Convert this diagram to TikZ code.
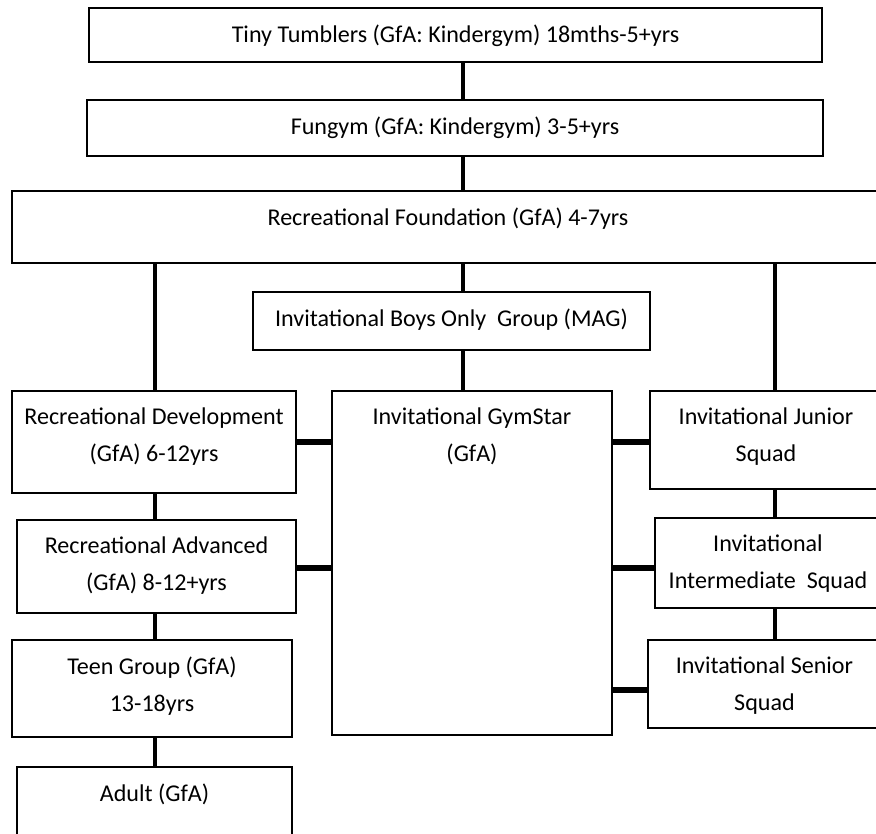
\documentclass[tikz,border=0pt]{standalone}
\usepackage{fontspec}
\setmainfont{Carlito}
\usepackage{tikz}
\usetikzlibrary{positioning}

\tikzset{
  box/.style 2 args={draw, line width=1.4pt, inner sep=0pt,
    minimum width=#1*0.02cm, minimum height=#2*0.02cm},
  txt/.style={inner sep=0pt, align=center,
    font=\fontsize{13.7pt}{21pt}\selectfont},
  link/.style={line width=2.4pt},
  hlink/.style={line width=2.9pt}
}

\begin{document}
\begin{tikzpicture}[x=0.02cm,y=-0.02cm]
\clip (0,0) rectangle (876,833);

% the boxes
\node[box={733}{54}]  (tiny)    at (455.5,35)  {};
\node[box={736}{56}]  (fungym)  at (455,128)   {};
\node[box={872}{72}]  (found)   at (448,227)   {};
\node[box={397}{58}]  (boys)    at (451.5,321) {};
\node[box={284}{102}] (recdev)  at (154,442)   {};
\node[box={280}{344}] (gymstar) at (472,563)   {};
\node[box={232}{98}]  (junior)  at (766,440)   {};
\node[box={279}{93}]  (recadv)  at (156.5,566.5) {};
\node[box={226}{90}]  (inter)   at (768,563)   {};
\node[box={280}{97}]  (teen)    at (152,688.5) {};
\node[box={233}{88}]  (senior)  at (764.5,684) {};
\node[box={275}{93}]  (adult)   at (154.5,813.5) {};

% the texts, near the top of each box
\node[txt, below=0.35cm of tiny.north]    (tinyT)    {Tiny Tumblers (GfA: Kindergym) 18mths-5+yrs};
\node[txt, below=0.35cm of fungym.north]  (fungymT)  {Fungym (GfA: Kindergym) 3-5+yrs};
\node[txt, below=0.35cm of found.north]   (foundT)   {Recreational Foundation (GfA) 4-7yrs};
\node[txt, below=0.35cm of boys.north]    (boysT)    {Invitational Boys Only\ \ Group (MAG)};
\node[txt, below=0.35cm of recdev.north]  (recdevT)  {Recreational Development\\(GfA) 6-12yrs};
\node[txt, below=0.35cm of gymstar.north] (gymstarT) {Invitational GymStar\\(GfA)};
\node[txt, below=0.35cm of junior.north]  (juniorT)  {Invitational Junior\\Squad};
\node[txt, below=0.35cm of recadv.north]  (recadvT)  {Recreational Advanced\\(GfA) 8-12+yrs};
\node[txt, below=0.35cm of inter.north]   (interT)   {Invitational\\Intermediate\ \ Squad};
\node[txt, below=0.35cm of teen.north]    (teenT)    {Teen Group (GfA)\\13-18yrs};
\node[txt, below=0.35cm of senior.north]  (seniorT)  {Invitational Senior\\Squad};
\node[txt, below=0.35cm of adult.north]   (adultT)   {Adult (GfA)};

% the three spines
\coordinate (lspine) at (155,0);
\coordinate (mspine) at (463,0);
\coordinate (rspine) at (775,0);

\draw[link] (tiny.south -| mspine) -- (fungym.north -| mspine);
\draw[link] (fungym.south -| mspine) -- (found.north -| mspine);
\draw[link] (found.south -| mspine) -- (boys.north -| mspine);
\draw[link] (boys.south -| mspine) -- (gymstar.north -| mspine);
\foreach \a/\b in {found/recdev, recdev/recadv, recadv/teen, teen/adult} {
    \draw[link] (\a.south -| lspine) -- (\b.north -| lspine);
}
\foreach \a/\b in {found/junior, junior/inter, inter/senior} {
    \draw[link] (\a.south -| rspine) -- (\b.north -| rspine);
}

% side links into the GymStar box
\draw[hlink] (recdev.east) -- (recdev.east -| gymstar.west);
\draw[hlink] ([yshift=-0.03cm]recadv.east) -- ([yshift=-0.03cm]recadv.east -| gymstar.west);
\draw[hlink] (gymstar.east |- recdev.east) -- (junior.west |- recdev.east);
\draw[hlink] ([yshift=-0.03cm]gymstar.east |- recadv.east) -- ([yshift=-0.03cm]inter.west |- recadv.east);
\draw[hlink] ([yshift=-0.12cm]gymstar.east |- senior.west) -- ([yshift=-0.12cm]senior.west);

\end{tikzpicture}
\end{document}
